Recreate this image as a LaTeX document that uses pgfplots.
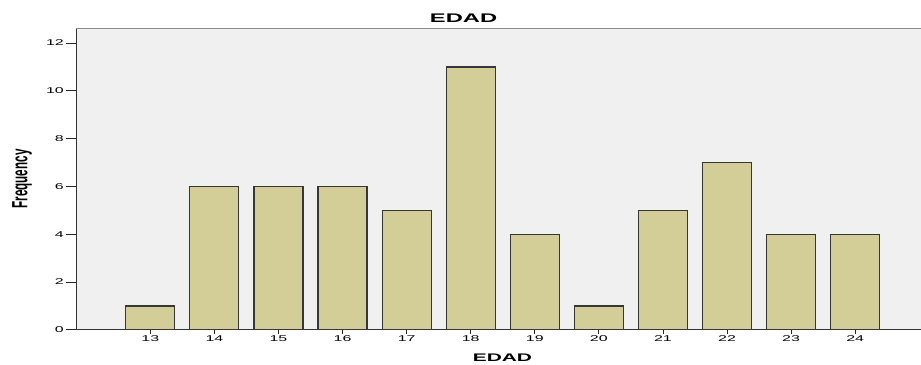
\documentclass[border=0pt]{standalone}
\usepackage{fontspec}
\setmainfont{Liberation Sans}
\newfontfamily\wide[FakeStretch=1.9]{Liberation Sans}
\newfontfamily\narrow[FakeStretch=0.53]{Liberation Sans}
\usepackage{pgfplots}
\pgfplotsset{compat=1.18}
\definecolor{barfill}{RGB}{211,206,151}
\definecolor{bgc}{RGB}{240,240,240}
\definecolor{edge}{RGB}{55,55,55}
\begin{document}
\begin{tikzpicture}
\begin{axis}[
  at={(0pt,0pt)}, anchor=south west,
  scale only axis, width=845pt, height=302pt,
  xmin=11.84, xmax=25.02, ymin=0, ymax=12.63,
  axis background/.style={fill=bgc},
  axis line style={black!80, line width=0.9pt},
  axis x line*=bottom, axis y line*=left,
  xtick={13,...,24}, ytick={0,2,...,12},
  tick align=outside, tick style={black!85, line width=0.9pt},
  major tick length=4pt,
  y tick style={/pgfplots/major tick length=10pt},
  tick label style={font=\wide\fontsize{8.4}{9}\selectfont, /pgf/number format/assume math mode=true},
  yticklabel style={inner sep=1pt, xshift=-7pt},
  xticklabel style={inner sep=2pt},
  ybar, bar width=49pt,
  title={\bfseries EDAD},
  title style={font=\wide\fontsize{12.5}{13}\selectfont, at={(axis description cs:0.459,1)}, anchor=center, yshift=4pt},
  xlabel={\bfseries EDAD},
  xlabel style={font=\wide\fontsize{11}{12}\selectfont, at={(axis description cs:0.505,0)}, anchor=center, yshift=-28pt},
  ylabel={\bfseries Frequency},
  ylabel style={font=\narrow\fontsize{22}{23}\selectfont, at={(axis description cs:0,0.5)}, anchor=center, yshift=54pt},
]
\addplot[fill=barfill, draw=edge, line width=1.2pt] coordinates {
(13,1) (14,6) (15,6) (16,6) (17,5) (18,11) (19,4) (20,1) (21,5) (22,7) (23,4) (24,4)};
\end{axis}
\draw[black!45, line width=0.8pt] (0pt,302pt) -- (845pt,302pt);
\path (-76pt,-35pt) rectangle ++(921pt,365pt);
\end{tikzpicture}
\end{document}
